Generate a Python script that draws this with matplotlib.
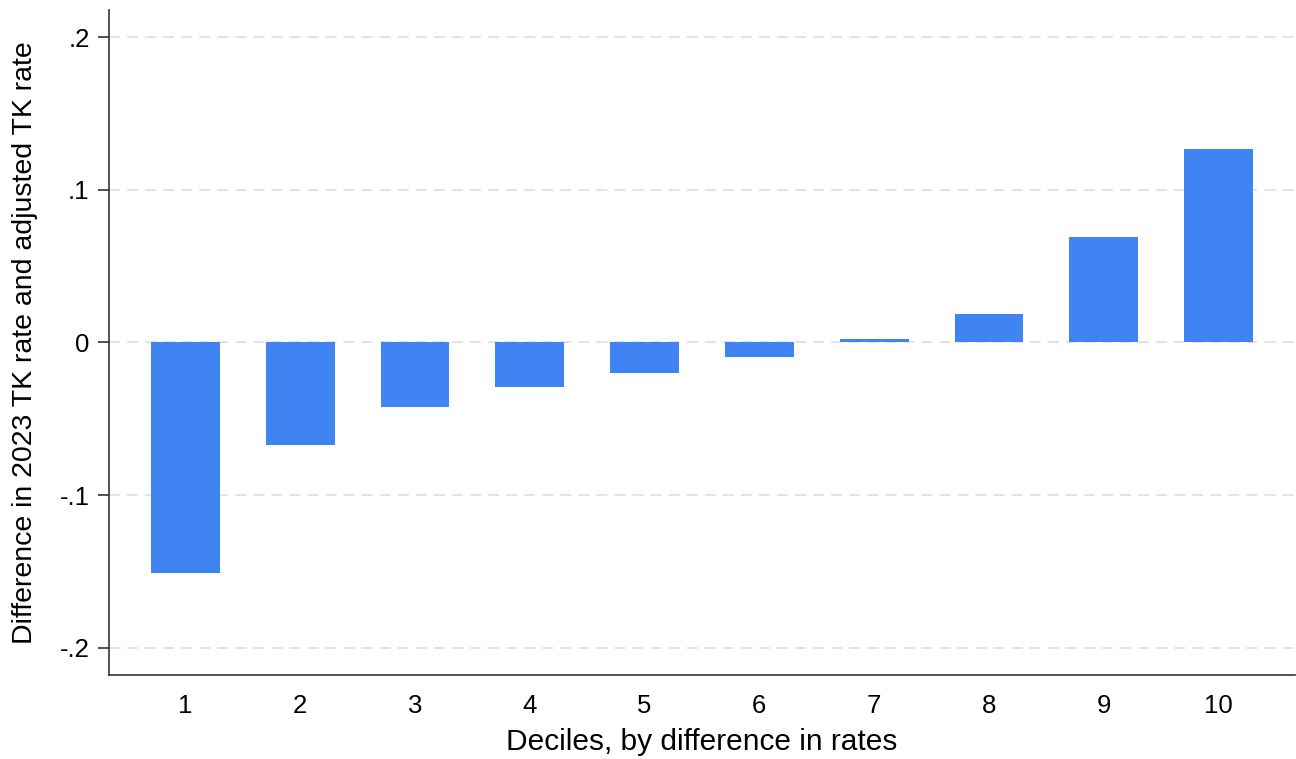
import matplotlib.pyplot as plt

# deciles and difference in rates
deciles = [1, 2, 3, 4, 5, 6, 7, 8, 9, 10]
diff = [-0.151, -0.067, -0.042, -0.029, -0.020, -0.0096, 0.002, 0.0184, 0.069, 0.127]
ytick_vals = [-0.2, -0.1, 0, 0.1, 0.2]
ytick_labels = ["-.2", "-.1", "0", ".1", ".2"]

plt.rcParams['font.family'] = ['Liberation Sans', 'DejaVu Sans']

fig = plt.figure(figsize=(12.96, 7.59), dpi=100)
ax = fig.add_axes([0.0841, 0.1107, 0.9151, 0.8761])

ax.bar(deciles, diff, width=0.6, color='#4083f3', zorder=3)

# axes limits
ax.set_xlim(0.334, 10.666)
ax.set_ylim(-0.218, 0.218)

# dashed light grid
ax.set_yticks(ytick_vals)
ax.set_yticklabels(ytick_labels)
ax.yaxis.grid(True, color='#e0e0e0', linestyle=(0, (6, 4)), linewidth=1.3, zorder=0)
ax.set_xticks(deciles)
ax.set_xticklabels([str(d) for d in deciles])

for side in ['top', 'right']:
    ax.spines[side].set_visible(False)
for side in ['left', 'bottom']:
    ax.spines[side].set_color('#333333')
    ax.spines[side].set_linewidth(1.2)

ax.tick_params(axis='y', length=8, width=1.2, color='#333333', labelsize=18.5, pad=6)
ax.tick_params(axis='x', length=0, labelsize=18.5, pad=14)

ax.set_xlabel('Deciles, by difference in rates', fontsize=21.5)
ax.set_ylabel('Difference in 2023 TK rate and adjusted TK rate', fontsize=20.5)
ax.xaxis.set_label_coords(0.5, -0.079)
ax.yaxis.set_label_coords(-0.060, 0.5)

fig.savefig('out.png', dpi=100)
